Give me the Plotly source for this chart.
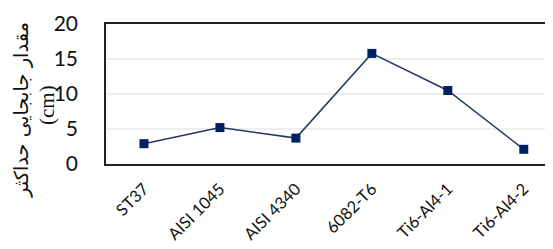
import plotly.graph_objects as go

categories = ["ST37", "AISI 1045", "AISI 4340", "6082-T6", "Ti6-Al4-1", "Ti6-Al4-2"]
values = [2.9, 5.2, 3.7, 15.8, 10.5, 2.1]
y_ticks = [0, 5, 10, 15, 20]
y_title = "مقدار جابجایی حداکثر"
y_unit = "(cm)"

W, H = 553, 249
OFF = 8  # page body margin
l, r, t, b = 98, 0, 16, 93

fig = go.Figure()
fig.add_trace(go.Scatter(
    x=categories, y=values, mode="lines+markers",
    line=dict(color="#1F3864", width=1.5),
    marker=dict(symbol="square", size=9, color="#002060"),
    showlegend=False,
))

fig.update_layout(
    width=W, height=H,
    margin=dict(l=l, r=r, t=t, b=b),
    paper_bgcolor="white", plot_bgcolor="white",
    font=dict(family="Lato, Open Sans, sans-serif", color="#111"),
    xaxis=dict(
        type="category", range=[-0.5, 5.49], automargin=False,
        showline=True, linecolor="#222", linewidth=1.5, mirror=True,
        showgrid=False, ticks="", tickangle=-45,
        tickfont=dict(size=16.5, family="Lato, Open Sans, sans-serif"),
        ticklabelstandoff=7,
    ),
    yaxis=dict(
        range=[0, 20], tickvals=y_ticks, automargin=False,
        showline=True, linecolor="#222", linewidth=1.5,
        showgrid=True, gridcolor="#eeeeee", gridwidth=1.5,
        zeroline=False, ticks="", ticklen=0,
        tickfont=dict(size=21, family="Lato, Open Sans, sans-serif"),
        ticklabelstandoff=22,
    ),
)

pw, ph = W - l - r, H - t - b
def px2paper(px, py):
    fx, fy = px - OFF, py - OFF
    return (fx - l) / pw, 1 - (fy - t) / ph

ax1, ay1 = px2paper(21, 110)
ax2, ay2 = px2paper(47, 105)
fig.add_annotation(text=y_title, x=ax1, y=ay1, xref="paper", yref="paper",
                   showarrow=False, textangle=-90, xanchor="center", yanchor="middle",
                   font=dict(size=19.5, family="DejaVu Sans", color="#111"))
fig.add_annotation(text=y_unit, x=ax2, y=ay2, xref="paper", yref="paper",
                   showarrow=False, textangle=-90, xanchor="center", yanchor="middle",
                   font=dict(size=21, family="Liberation Serif", color="#111"))

fig.write_html("out.html")
